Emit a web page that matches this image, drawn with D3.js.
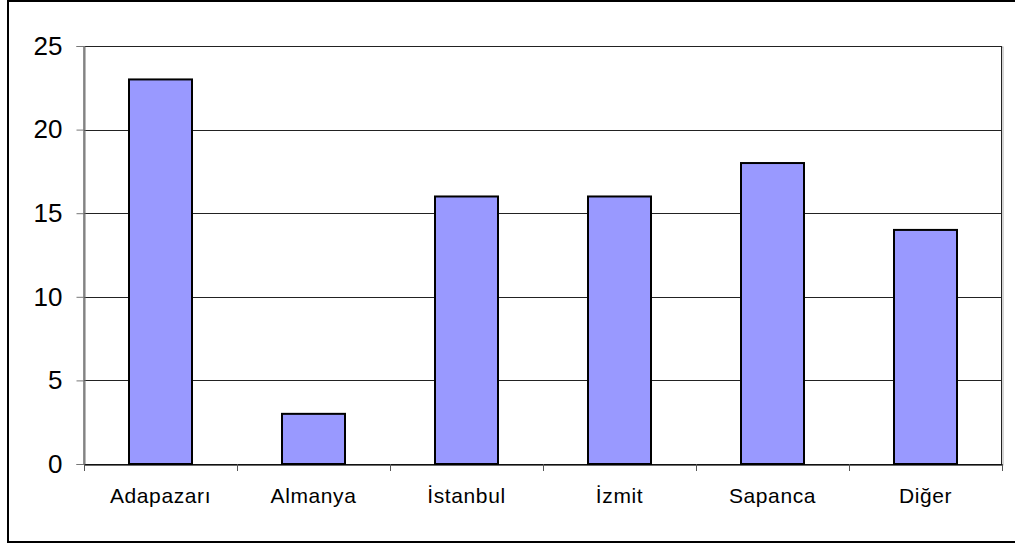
<!DOCTYPE html>
<html lang="tr">
<head>
<meta charset="UTF-8">
<title>Bar chart</title>
<script src="https://d3js.org/d3.v7.min.js"></script>
<style>
  body { margin: 0; background: #fff; }
  text { font-family: "Liberation Sans", Arial, sans-serif; fill: #000; }
</style>
</head>
<body>
<script>
var categories = ["Adapazarı", "Almanya", "İstanbul", "İzmit", "Sapanca", "Diğer"];
var values = [23, 3, 16, 16, 18, 14];
var yTicks = [0, 5, 10, 15, 20, 25];

var width = 1015, height = 546;
var plotL = 84, plotR = 1002, plotT = 46, plotB = 464;

var svg = d3.select("body").append("svg")
    .attr("width", width)
    .attr("height", height);

// outer frame
svg.append("rect")
    .attr("x", 8).attr("y", 1)
    .attr("width", 1020).attr("height", 541)
    .attr("fill", "none")
    .attr("stroke", "#000")
    .attr("stroke-width", 2);

var x = d3.scaleBand().domain(categories).range([plotL, plotR]).paddingInner(0).paddingOuter(0);
var y = d3.scaleLinear().domain([0, 25]).range([plotB, plotT]);

// plot area shadow + border
svg.append("rect")
    .attr("x", plotL + 1).attr("y", plotT + 1)
    .attr("width", plotR - plotL).attr("height", plotB - plotT)
    .attr("fill", "none").attr("stroke", "#aaa").attr("stroke-width", 1);
svg.append("rect")
    .attr("x", plotL).attr("y", plotT + 0.5)
    .attr("width", plotR - plotL - 0.5).attr("height", plotB - plotT)
    .attr("fill", "#fff").attr("stroke", "#222").attr("stroke-width", 1);

// gridlines
svg.selectAll("line.grid").data(yTicks.filter(function(d) { return d > 0; }))
    .enter().append("line")
    .attr("x1", plotL).attr("x2", plotR)
    .attr("y1", function(d) { return Math.round(y(d)) + 0.5; })
    .attr("y2", function(d) { return Math.round(y(d)) + 0.5; })
    .attr("stroke", "#222").attr("stroke-width", 1);

// bars
var barW = 63;
svg.selectAll("rect.bar").data(values)
    .enter().append("rect")
    .attr("class", "bar")
    .attr("x", function(d, i) { return x(categories[i]) + x.bandwidth() / 2 - barW / 2; })
    .attr("y", function(d) { return y(d); })
    .attr("width", barW)
    .attr("height", function(d) { return y(0) - y(d); })
    .attr("fill", "#9999ff")
    .attr("stroke", "#000")
    .attr("stroke-width", 2);

// y axis
var yAxis = d3.axisLeft(y).tickValues(yTicks).tickSize(8).tickPadding(14);
var gy = svg.append("g").attr("transform", "translate(" + (plotL + 0.5) + ",0)").call(yAxis);
gy.select(".domain").attr("stroke", "#777");
gy.selectAll(".tick line").attr("stroke", "#777");
gy.selectAll(".tick text").style("font-size", "26px")
    .style("font-family", "'Liberation Sans', Arial, sans-serif");

// x axis
var xAxis = d3.axisBottom(x).tickSize(0).tickPadding(24);
var gx = svg.append("g").attr("transform", "translate(0," + (plotB + 0.5) + ")").call(xAxis);
gx.select(".domain").attr("stroke", "#000");
gx.selectAll(".tick text").style("font-size", "21px")
    .style("letter-spacing", "0.6px")
    .style("font-family", "'Liberation Sans', Arial, sans-serif");

// category boundary ticks
var bounds = categories.map(function(c) { return x(c); }).concat([plotR]);
svg.selectAll("line.xt").data(bounds)
    .enter().append("line")
    .attr("x1", function(d) { return Math.round(d) + 0.5; })
    .attr("x2", function(d) { return Math.round(d) + 0.5; })
    .attr("y1", plotB).attr("y2", plotB + 7)
    .attr("stroke", "#555").attr("stroke-width", 1);
</script>
</body>
</html>
